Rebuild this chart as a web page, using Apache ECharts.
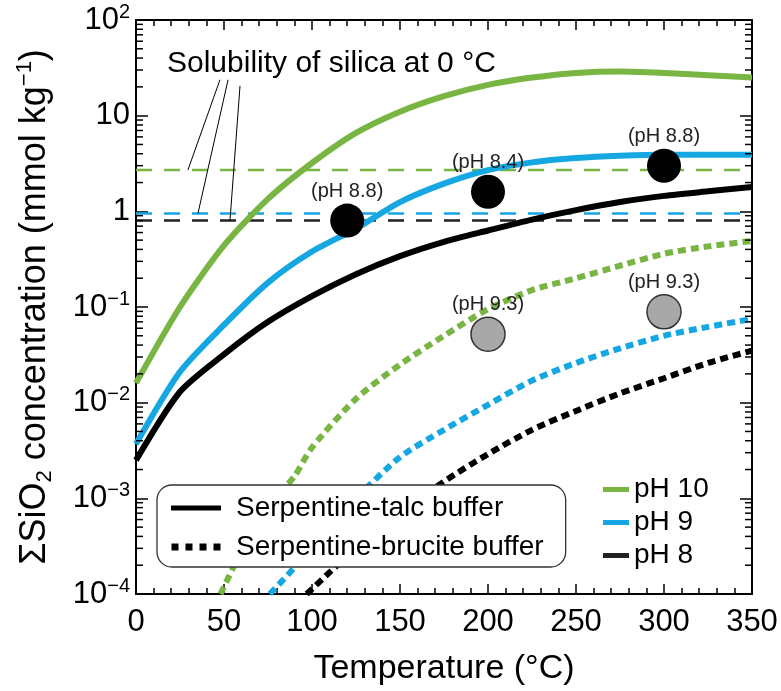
<!DOCTYPE html>
<html>
<head>
<meta charset="utf-8">
<script src="https://cdn.jsdelivr.net/npm/echarts@6/dist/echarts.min.js"></script>
<style>
html,body{margin:0;padding:0;background:#fff;}
#chart{width:781px;height:691px;}
</style>
</head>
<body>
<div id="chart"></div>
<script>
// ---------------- data ----------------
const temps = [0, 25, 50, 75, 100, 125, 150, 175, 200, 225, 250, 275, 300, 325, 350];
const talcPH10 = [0.016, 0.1, 0.44, 1.35, 3.2, 6.6, 11, 16, 21, 25, 28, 29, 28, 26.5, 25];
const talcPH9  = [0.0037, 0.021, 0.065, 0.18, 0.38, 0.66, 1.25, 1.95, 2.7, 3.25, 3.6, 3.8, 3.9, 3.9, 3.9];
const talcPH8  = [0.0025, 0.013, 0.032, 0.07, 0.13, 0.22, 0.34, 0.48, 0.63, 0.82, 1.03, 1.25, 1.45, 1.62, 1.8];

const bruciteT10 = [48, 60, 75, 90, 100, 125, 150, 175, 200, 225, 250, 275, 300, 325, 350];
const brucitePH10 = [1e-4, 2.8e-4, 8e-4, 0.0017, 0.0034, 0.011, 0.025, 0.05, 0.095, 0.15, 0.2, 0.27, 0.36, 0.43, 0.49];
const bruciteT9 = [76, 90, 100, 125, 150, 175, 200, 225, 250, 275, 300, 325, 350];
const brucitePH9 = [1e-4, 1.9e-4, 3.5e-4, 0.001, 0.0027, 0.0052, 0.0095, 0.017, 0.026, 0.037, 0.05, 0.062, 0.075];
const bruciteT8 = [97, 113, 125, 150, 175, 200, 225, 250, 275, 300, 325, 350];
const brucitePH8 = [1e-4, 1.9e-4, 3e-4, 7e-4, 0.0015, 0.0029, 0.0052, 0.0082, 0.0125, 0.018, 0.026, 0.035];

// silica solubility at 0 °C (horizontal dashed lines)
const silicaSolubility = { pH10: 2.7, pH9: 0.95, pH8: 0.8 };
// leader lines of the annotation: [start, end] in data units
const leaderLines = [
  [[47.7, 23.7], [29.5, 2.7]],
  [[52.3, 23.7], [35.2, 0.95]],
  [[59.1, 20.5], [53.4, 0.8]]
];

// measured points
const talcPoints = [[120, 0.8], [200, 1.6], [300, 3.0]];
const talcLabels = ['(pH 8.8)', '(pH 8.4)', '(pH 8.8)'];
const brucitePoints = [[200, 0.052], [300, 0.089]];
const bruciteLabels = ['(pH 9.3)', '(pH 9.3)'];

const yMinorTicks = [];
for (let e = -4; e <= 1; e++) for (let m = 2; m <= 9; m++) yMinorTicks.push(m * Math.pow(10, e));

const annotationText = 'Solubility of silica at 0 °C';
const legendBuffers = ['Serpentine-talc buffer', 'Serpentine-brucite buffer'];
const legendPH = ['pH 10', 'pH 9', 'pH 8'];

// ---------------- style ----------------
const FONT = '"Liberation Sans", Arial, Helvetica, sans-serif';
const GREEN = '#78b543', BLUE = '#15a7e2', BLACK = '#000000';
const supFmt = function (v) {
  const e = Math.round(Math.log10(v));
  if (e === 0) return '{b|1}';
  if (e === 1) return '{b|10}';
  return '{b|10}{s|' + (e < 0 ? '\u2212' + (-e) : e) + '}';
};
const pair = (xs, ys) => xs.map((x, i) => [x, ys[i]]);

const solid = (name, data, color) => ({
  name, type: 'line', data, symbol: 'none', smooth: 0.25,
  lineStyle: { color, width: 6, join: 'round' }, itemStyle: { color }, z: 3, silent: true
});
const dotted = (name, data, color) => ({
  name, type: 'line', data, symbol: 'none', smooth: 0.25,
  lineStyle: { color, width: 6, type: [8, 5] }, itemStyle: { color }, z: 3, silent: true
});
const dashed = (name, val, color, extra) => Object.assign({
  name, type: 'line', data: [[0, val], [350, val]], symbol: 'none',
  lineStyle: { color, width: 2.5, type: [16, 12] }, itemStyle: { color }, z: 2, silent: true
}, extra || {});

const chart = echarts.init(document.getElementById('chart'), null, { renderer: 'canvas' });

const axisLineStyle = { color: '#000', width: 2 };
const option = {
  animation: false,
  backgroundColor: '#fff',
  textStyle: { fontFamily: FONT },
  grid: { left: 136, right: 29, top: 20, bottom: 94 },
  xAxis: [
    {
      type: 'value', min: 0, max: 350, interval: 50, position: 'bottom',
      axisLine: { show: true, onZero: false, lineStyle: axisLineStyle },
      axisTick: { inside: true, length: 10, lineStyle: { color: '#000', width: 1.5 } },
      minorTick: { show: true, splitNumber: 5, length: 6, lineStyle: { color: '#000', width: 1.5 } },
      axisLabel: { fontSize: 31, color: '#000', margin: 13, fontFamily: FONT },
      splitLine: { show: false },
      name: 'Temperature (°C)', nameLocation: 'middle', nameGap: 58,
      nameTextStyle: { fontSize: 34, color: '#000', fontFamily: FONT }
    },
    {
      type: 'value', min: 0, max: 350, interval: 50, position: 'top',
      axisLine: { show: true, onZero: false, lineStyle: axisLineStyle },
      axisTick: { inside: true, length: 10, lineStyle: { color: '#000', width: 1.5 } },
      minorTick: { show: true, splitNumber: 5, length: 6, lineStyle: { color: '#000', width: 1.5 } },
      axisLabel: { show: false }, splitLine: { show: false }
    }
  ],
  yAxis: [
    {
      type: 'log', logBase: 10, min: 1e-4, max: 100, splitNumber: 6, position: 'left',
      axisLine: { show: true, onZero: false, lineStyle: axisLineStyle },
      axisTick: { inside: true, length: 12, lineStyle: { color: '#000', width: 1.5 } },
      axisLabel: {
        formatter: supFmt, margin: 6, color: '#000',
        rich: {
          b: { fontSize: 31, fontFamily: FONT, color: '#000', lineHeight: 36 },
          s: { fontSize: 20, fontFamily: FONT, color: '#000', verticalAlign: 'top', lineHeight: 20 }
        }
      },
      splitLine: { show: false },
      name: '{n|ΣSiO}{sub|2}{n| concentration (mmol kg}{sup|\u22121}{n|)}',
      nameLocation: 'middle', nameGap: 80, nameRotate: 90,
      nameTextStyle: {
        color: '#000',
        rich: {
          n: { fontSize: 36, fontFamily: FONT, color: '#000', lineHeight: 42 },
          sub: { fontSize: 22, fontFamily: FONT, color: '#000', verticalAlign: 'bottom', lineHeight: 23 },
          sup: { fontSize: 22, fontFamily: FONT, color: '#000', verticalAlign: 'top', lineHeight: 23 }
        }
      }
    },
    {
      type: 'log', logBase: 10, min: 1e-4, max: 100, splitNumber: 6, position: 'right',
      axisLine: { show: true, onZero: false, lineStyle: axisLineStyle },
      axisTick: { inside: true, length: 12, lineStyle: { color: '#000', width: 1.5 } },
      axisLabel: { show: false }, splitLine: { show: false }
    }
  ],
  legend: [
    {
      data: [
        { name: legendBuffers[0], icon: 'path://M0,0h50v5H0z' },
        { name: legendBuffers[1], icon: 'path://M0,0h7v7H0z M14,0h7v7h-7z M28,0h7v7h-7z M42,0h7v7h-7z' }
      ],
      orient: 'vertical', left: 157, top: 485, z: 10,
      selectedMode: false, itemWidth: 50, itemHeight: 7, itemGap: 9,
      padding: [8, 22, 5, 14],
      backgroundColor: '#fff',
      borderColor: '#333', borderWidth: 1.3, borderRadius: 15,
      textStyle: { fontSize: 28, color: '#000', fontFamily: FONT, lineHeight: 30, padding: [0, 0, 0, 10] }
    },
    {
      data: legendPH.map(n => ({ name: n, icon: 'rect' })),
      orient: 'vertical', left: 598, top: 469, z: 10,
      selectedMode: false, itemWidth: 26, itemHeight: 5, itemGap: 2,
      textStyle: { fontSize: 28, color: '#000', fontFamily: FONT, lineHeight: 31 }
    }
  ],
  graphic: [
    {
      type: 'text', left: 167, top: 49, silent: true,
      style: { text: annotationText, fontSize: 30, fontFamily: FONT, fill: '#000' }
    }
  ],
  series: [
    // minor ticks of the log axis on both sides
    {
      type: 'custom', silent: true, z: 5,
      data: yMinorTicks.map(v => [0, v]),
      encode: { x: 0, y: 1 },
      renderItem: function (params, api) {
        const v = api.value(1);
        const pl = api.coord([0, v]);
        const pr = api.coord([350, v]);
        const st = { stroke: '#000', lineWidth: 1.5 };
        return {
          type: 'group', children: [
            { type: 'line', shape: { x1: pl[0], y1: pl[1], x2: pl[0] + 7, y2: pl[1] }, style: st },
            { type: 'line', shape: { x1: pr[0] - 7, y1: pr[1], x2: pr[0], y2: pr[1] }, style: st }
          ]
        };
      }
    },
    dashed('sol10', silicaSolubility.pH10, GREEN, {
      markLine: {
        silent: true, symbol: ['none', 'none'], label: { show: false },
        lineStyle: { color: '#000', width: 1, type: 'solid' },
        data: leaderLines.map(l => [{ coord: l[0] }, { coord: l[1] }])
      }
    }),
    dashed('sol9', silicaSolubility.pH9, BLUE),
    dashed('sol8', silicaSolubility.pH8, '#222'),
    solid('talc10', pair(temps, talcPH10), GREEN),
    solid('talc9', pair(temps, talcPH9), BLUE),
    solid('talc8', pair(temps, talcPH8), BLACK),
    dotted('bru10', pair(bruciteT10, brucitePH10), GREEN),
    dotted('bru9', pair(bruciteT9, brucitePH9), BLUE),
    dotted('bru8', pair(bruciteT8, brucitePH8), BLACK),
    {
      name: 'talcPts', type: 'scatter', z: 6, symbolSize: 34,
      data: talcPoints.map((p, i) => ({ value: p, label: { formatter: talcLabels[i] } })),
      itemStyle: { color: '#000', opacity: 1 },
      label: { show: true, position: 'top', distance: 2, fontSize: 20, color: '#222', fontFamily: FONT }
    },
    {
      name: 'brucitePts', type: 'scatter', z: 6, symbolSize: 34,
      data: brucitePoints.map((p, i) => ({ value: p, label: { formatter: bruciteLabels[i] } })),
      itemStyle: { color: '#a8a8a8', borderColor: '#333', borderWidth: 1.5, opacity: 1 },
      label: { show: true, position: 'top', distance: 2, fontSize: 20, color: '#222', fontFamily: FONT }
    },
    // legend-only series
    { name: legendBuffers[0], type: 'line', data: [], symbol: 'none', lineStyle: { color: '#000', width: 5 }, itemStyle: { color: '#000' } },
    { name: legendBuffers[1], type: 'line', data: [], symbol: 'none', lineStyle: { color: '#000', width: 5, type: [6, 5] }, itemStyle: { color: '#000' } },
    { name: legendPH[0], type: 'line', data: [], symbol: 'none', lineStyle: { color: GREEN, width: 5 }, itemStyle: { color: GREEN } },
    { name: legendPH[1], type: 'line', data: [], symbol: 'none', lineStyle: { color: BLUE, width: 5 }, itemStyle: { color: BLUE } },
    { name: legendPH[2], type: 'line', data: [], symbol: 'none', lineStyle: { color: '#222', width: 5 }, itemStyle: { color: '#222' } }
  ]
};
chart.setOption(option);
</script>
</body>
</html>
